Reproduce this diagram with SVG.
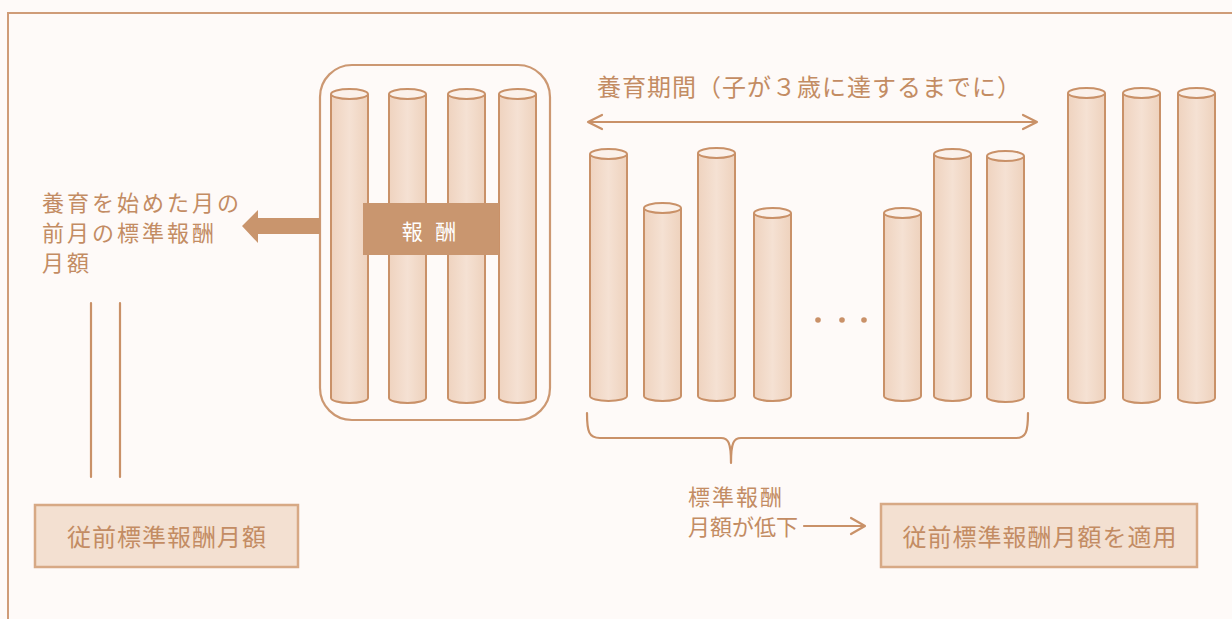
<svg xmlns="http://www.w3.org/2000/svg" width="1232" height="619" viewBox="0 0 1232 619">
<defs>
<linearGradient id="cyl" x1="0" y1="0" x2="1" y2="0">
<stop offset="0" stop-color="#efd3bf"/>
<stop offset="0.5" stop-color="#f5e1d3"/>
<stop offset="1" stop-color="#eed2bd"/>
</linearGradient>
<style>
.t{font-family:"Noto Sans CJK JP","Noto Sans",sans-serif;fill:#c38c63;font-size:24px;letter-spacing:1px}
.s{font-size:22px;letter-spacing:0px}
.w{font-size:22px;letter-spacing:3px}
.body{fill:url(#cyl);stroke:#c99168;stroke-width:2}
.top{fill:#fbf1ea;stroke:#c99168;stroke-width:2}
.ln{fill:none;stroke:#c99168;stroke-width:2.2;stroke-linecap:round;stroke-linejoin:round}
.box{fill:#f3e0d1;stroke:#d7a985;stroke-width:2.5}
</style>
</defs>
<rect x="0" y="0" width="1232" height="619" fill="#fefaf8"/>
<rect x="8" y="13" width="1240" height="620" fill="none" stroke="#cf9c78" stroke-width="2"/>

<g id="container">
<rect x="320" y="65" width="230" height="355" rx="32" fill="none" stroke="#cc9872" stroke-width="2.2"/>
<g id="c-a1"><path class="body" d="M331,94 V398 A18.5,5 0 0 0 368,398 V94"/><ellipse class="top" cx="349.5" cy="94" rx="18.5" ry="5"/></g>
<g id="c-a2"><path class="body" d="M389,94 V398 A18.5,5 0 0 0 426,398 V94"/><ellipse class="top" cx="407.5" cy="94" rx="18.5" ry="5"/></g>
<g id="c-a3"><path class="body" d="M448,94 V398 A18.5,5 0 0 0 485,398 V94"/><ellipse class="top" cx="466.5" cy="94" rx="18.5" ry="5"/></g>
<g id="c-a4"><path class="body" d="M499,94 V398 A18.5,5 0 0 0 536,398 V94"/><ellipse class="top" cx="517.5" cy="94" rx="18.5" ry="5"/></g>
<g id="label-houshu">
<rect x="363" y="203" width="136" height="52" fill="#c9966f"/>
<text x="431" y="239" text-anchor="middle" font-family="'Noto Sans CJK JP',sans-serif" font-size="21" fill="#ffffff" letter-spacing="4">報 酬</text>
</g>
</g>

<g id="period-cylinders">
<g id="c-b1"><path class="body" d="M590,154 V396 A18.5,5 0 0 0 627,396 V154"/><ellipse class="top" cx="608.5" cy="154" rx="18.5" ry="5"/></g>
<g id="c-b2"><path class="body" d="M644,208 V396 A18.5,5 0 0 0 681,396 V208"/><ellipse class="top" cx="662.5" cy="208" rx="18.5" ry="5"/></g>
<g id="c-b3"><path class="body" d="M698,153 V396 A18.5,5 0 0 0 735,396 V153"/><ellipse class="top" cx="716.5" cy="153" rx="18.5" ry="5"/></g>
<g id="c-b4"><path class="body" d="M754,213 V396 A18.5,5 0 0 0 791,396 V213"/><ellipse class="top" cx="772.5" cy="213" rx="18.5" ry="5"/></g>
<g id="dots" fill="#c99168"><circle cx="818" cy="320" r="2.8"/><circle cx="842" cy="320" r="2.8"/><circle cx="864" cy="320" r="2.8"/></g>
<g id="c-b5"><path class="body" d="M884,213 V396 A18.5,5 0 0 0 921,396 V213"/><ellipse class="top" cx="902.5" cy="213" rx="18.5" ry="5"/></g>
<g id="c-b6"><path class="body" d="M934,154 V396 A18.5,5 0 0 0 971,396 V154"/><ellipse class="top" cx="952.5" cy="154" rx="18.5" ry="5"/></g>
<g id="c-b7"><path class="body" d="M987,156 V397 A18.5,5 0 0 0 1024,397 V156"/><ellipse class="top" cx="1005.5" cy="156" rx="18.5" ry="5"/></g>
</g>

<g id="after-cylinders">
<g id="c-c1"><path class="body" d="M1068,93 V398 A18.5,5 0 0 0 1105,398 V93"/><ellipse class="top" cx="1086.5" cy="93" rx="18.5" ry="5"/></g>
<g id="c-c2"><path class="body" d="M1123,93 V398 A18.5,5 0 0 0 1160,398 V93"/><ellipse class="top" cx="1141.5" cy="93" rx="18.5" ry="5"/></g>
<g id="c-c3"><path class="body" d="M1178,93 V398 A18.5,5 0 0 0 1215,398 V93"/><ellipse class="top" cx="1196.5" cy="93" rx="18.5" ry="5"/></g>
</g>

<g id="label-prev">
<text class="t w" x="42" y="211">養育を始めた月の</text>
<text class="t w" x="42" y="241">前月の標準報酬</text>
<text class="t w" x="42" y="271">月額</text>
</g>

<g id="label-period">
<text class="t" x="597" y="96">養育期間（子が３歳に達するまでに）</text>
</g>

<g id="label-decline">
<text class="t s" x="688" y="505" style="letter-spacing:2px">標準報酬</text>
<text class="t s" x="688" y="535">月額が低下</text>
</g>

<g id="box-left">
<rect class="box" x="35" y="505" width="263" height="62"/>
<text class="t" x="167" y="546" text-anchor="middle">従前標準報酬月額</text>
</g>

<g id="box-right">
<rect class="box" x="881" y="504" width="316" height="63"/>
<text class="t" x="1040" y="546" text-anchor="middle">従前標準報酬月額を適用</text>
</g>

<g id="connectors">
<polygon points="242,226 258,210 258,218 320,218 320,234 258,234 258,243" fill="#c9956d"/>
<path class="ln" d="M588,122 H1037 M602,115 L588,122 L602,129 M1023,115 L1037,122 L1023,129"/>
<path class="ln" d="M587,413 C587,432 589,438 600,438 L721,438 C728,438 731,442 731,463 C731,442 734,438 741,438 L1016,438 C1026,438 1028,432 1028,413"/>
<path class="ln" stroke-width="3" d="M804,526 H864 M851,518 L865,526 L851,534"/>
<path class="ln" stroke-width="2.5" d="M91,303 V477 M120,303 V477"/>
</g>
</svg>
